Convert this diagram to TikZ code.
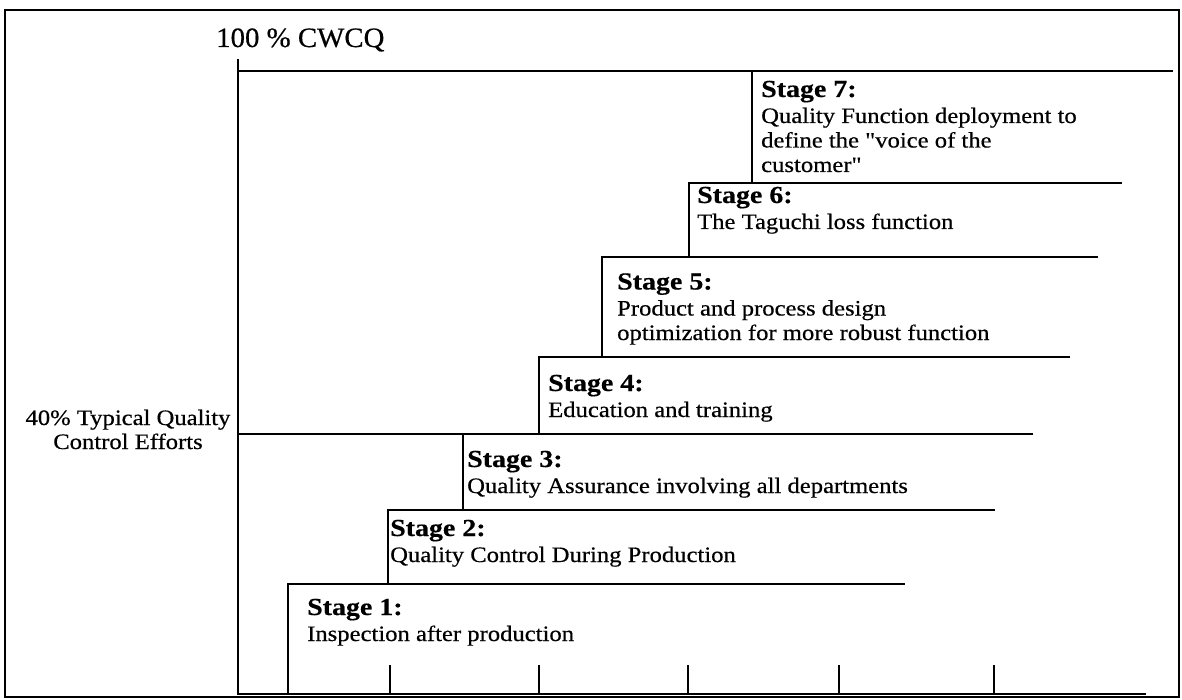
\documentclass[tikz,border=0pt]{standalone}
\usepackage{fontspec}
\setmainfont{Liberation Serif}
\newfontfamily\bodyfont[FakeStretch=1.12,FakeBold=0.5]{Liberation Serif}
\newfontfamily\headfont[FakeStretch=1.14,FakeBold=0.4]{Liberation Serif Bold}
\newfontfamily\capfont[FakeStretch=1.03,FakeBold=0.5]{Liberation Serif}

\tikzset{
  rule/.style={line width=1.9pt, line cap=rect},
  frame/.style={line width=1.9pt},
  % anchored at the baseline of the last text line
  stagetxt/.style={anchor=base west, align=left, inner sep=0pt,
    font=\bodyfont\fontsize{22}{24.5}\selectfont},
}
\newcommand{\stagetitle}[1]{{\headfont\fontsize{24.5}{24.5}\selectfont #1}\\[1.5pt]}

\begin{document}
\begin{tikzpicture}[x=1pt,y=-1pt]
  \useasboundingbox (0,0) rectangle (1182,700);
  \draw[frame] (5,10) rectangle (1179,697);

  % axes
  \coordinate (axtop) at (238,60);
  \coordinate (origin) at (238,694);
  \coordinate (axend) at (1145,694);
  \draw[rule] (axtop) -- (origin) -- (axend);

  % ticks on the horizontal axis
  \foreach \tx in {390,539,688,839,994}
    \draw[rule] (\tx,666) -- (\tx,694);

  % 100 % level
  \draw[rule] (238,71) -- (1172,71);
  \node[anchor=base west, inner sep=0pt, font=\capfont\fontsize{28}{30}\selectfont]
    (cwcq) at (216,47) {100 \% CWCQ};

  % 40 % level
  \draw[rule] (238,434) -- (1032,434);
  \node[anchor=base, align=center, inner sep=0pt,
        font=\bodyfont\fontsize{22}{24}\selectfont] (typ) at (128,449)
    {40\% Typical Quality\\Control Efforts};

  % staircase
  \draw[rule] (752,71) -- (752,183);
  \draw[rule] (689,183) -- (1121,183);
  \draw[rule] (689,183) -- (689,257);
  \draw[rule] (602,257) -- (1097,257);
  \draw[rule] (602,257) -- (602,357);
  \draw[rule] (539,357) -- (1069,357);
  \draw[rule] (539,357) -- (539,434);
  \draw[rule] (463,434) -- (463,510);
  \draw[rule] (388,510) -- (994,510);
  \draw[rule] (388,510) -- (388,584);
  \draw[rule] (288,584) -- (904,584);
  \draw[rule] (288,584) -- (288,694);

  % stage texts
  \node[stagetxt] (s7) at (761,172) {\stagetitle{Stage 7:}Quality Function deployment to\\define the "voice of the\\customer"};
  \node[stagetxt] (s6) at (697,229) {\stagetitle{Stage 6:}The Taguchi loss function};
  \node[stagetxt] (s5) at (617,340) {\stagetitle{Stage 5:}Product and process design\\optimization for more robust function};
  \node[stagetxt] (s4) at (548,417) {\stagetitle{Stage 4:}Education and training};
  \node[stagetxt] (s3) at (467,493) {\stagetitle{Stage 3:}Quality Assurance involving all departments};
  \node[stagetxt] (s2) at (390,562) {\stagetitle{Stage 2:}Quality Control During Production};
  \node[stagetxt] (s1) at (307,641) {\stagetitle{Stage 1:}Inspection after production};
\end{tikzpicture}
\end{document}
